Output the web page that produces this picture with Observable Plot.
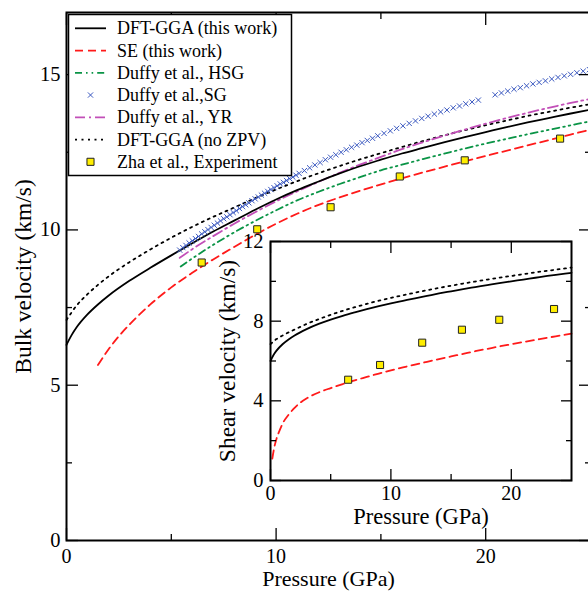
<!DOCTYPE html>
<html><head><meta charset="utf-8">
<script src="https://cdn.jsdelivr.net/npm/d3@7"></script>
<script src="https://cdn.jsdelivr.net/npm/@observablehq/plot@0.6"></script>
<style>
body{margin:0;background:#fff;}
#wrap{position:relative;width:588px;height:591px;overflow:hidden;}
#wrap svg{position:absolute;left:0;top:0;}
</style></head><body><div id="wrap"></div>
<script>
// ---------- DATA ----------
// Main panel: bulk velocity (km/s) vs pressure (GPa)
const dftGGA = [[0,6.3],[0.25,6.62],[0.5,6.88],[1,7.28],[1.5,7.6],[2,7.88],[3,8.36],[4,8.78],[5,9.18],[6,9.57],[7,9.95],[8,10.3],[9,10.65],[10,10.98],[11,11.28],[12,11.55],[13,11.81],[14,12.05],[15,12.26],[16,12.46],[17,12.64],[18,12.82],[19,12.99],[20,13.15],[21,13.31],[22,13.46],[23,13.6],[24,13.74],[25,13.87]];
const seThisWork = [[1.5,5.65],[2,6.15],[2.5,6.58],[3,6.95],[4,7.6],[5,8.15],[6,8.62],[7,9.05],[8,9.45],[9,9.84],[10,10.2],[11,10.52],[12,10.8],[13,11.04],[14,11.26],[16,11.66],[18,12.03],[20,12.38],[22,12.72],[24,13.06],[25,13.23]];
const duffyHSG = [[5.45,8.82],[6,9.08],[7,9.52],[8,9.92],[9,10.29],[10,10.63],[11,10.95],[12,11.22],[13,11.47],[14,11.7],[15,11.92],[16,12.1],[17,12.28],[18,12.45],[19,12.62],[20,12.78],[21,12.93],[22,13.08],[23,13.22],[24,13.36],[25,13.5]];
const duffySG = [[5.4,9.35],[5.55,9.43],[5.7,9.5],[5.85,9.58],[6,9.65],[6.15,9.72],[6.3,9.79],[6.45,9.87],[6.6,9.94],[6.75,10.01],[6.9,10.08],[7.05,10.15],[7.2,10.22],[7.35,10.29],[7.5,10.36],[7.65,10.42],[7.8,10.49],[7.95,10.56],[8.1,10.62],[8.25,10.69],[8.4,10.75],[8.55,10.81],[8.7,10.87],[8.85,10.94],[9,11.0],[9.15,11.06],[9.3,11.12],[9.45,11.18],[9.6,11.24],[9.75,11.3],[9.9,11.36],[10.05,11.42],[10.2,11.48],[10.35,11.53],[10.5,11.59],[10.65,11.65],[10.8,11.7],[10.95,11.76],[11.1,11.82],[11.35,11.91],[11.6,12.0],[11.85,12.09],[12.1,12.17],[12.35,12.26],[12.6,12.34],[12.85,12.42],[13.1,12.5],[13.35,12.58],[13.6,12.66],[13.85,12.73],[14.1,12.81],[14.35,12.88],[14.6,12.95],[14.85,13.03],[15.15,13.11],[15.45,13.19],[15.75,13.27],[16.05,13.35],[16.35,13.43],[16.65,13.51],[16.95,13.59],[17.25,13.66],[17.55,13.73],[17.85,13.8],[18.15,13.86],[18.45,13.93],[18.75,13.99],[19.05,14.06],[19.35,14.12],[19.65,14.18],[20.45,14.35],[20.75,14.41],[21.05,14.47],[21.35,14.53],[21.65,14.58],[21.95,14.64],[22.25,14.7],[22.55,14.75],[22.85,14.8],[23.15,14.86],[23.45,14.91],[23.75,14.96],[24.05,15.01],[24.35,15.06],[24.65,15.11],[24.95,15.16]];
const duffyYR = [[5.4,9.1],[6,9.38],[7,9.8],[8,10.2],[9,10.57],[10,10.92],[11,11.24],[12,11.54],[13,11.83],[14,12.1],[15,12.35],[16,12.6],[17,12.82],[18,13.03],[19,13.23],[20,13.42],[21,13.6],[22,13.77],[23,13.93],[24,14.08],[25,14.22]];
const dftNoZPV = [[0,7.1],[0.5,7.58],[1,7.93],[1.5,8.23],[2,8.5],[3,8.96],[4,9.37],[5,9.75],[6,10.1],[7,10.42],[8,10.72],[9,11.02],[10,11.3],[11,11.57],[12,11.82],[13,12.05],[14,12.27],[15,12.47],[16,12.67],[17,12.86],[18,13.04],[19,13.21],[20,13.37],[21,13.52],[22,13.67],[23,13.8],[24,13.93],[25,14.05]];
const zhaBulk = [[6.45,8.95],[9.1,10.02],[12.6,10.73],[15.9,11.72],[19.0,12.24],[23.55,12.94]];

// Inset: shear velocity (km/s) vs pressure (GPa)
const shearDFT = [[0,6.0],[0.25,6.3],[0.5,6.52],[1,6.84],[1.5,7.08],[2,7.28],[3,7.6],[4,7.86],[5,8.08],[6,8.27],[7,8.44],[8,8.6],[9,8.75],[10,8.89],[11,9.02],[12,9.15],[13,9.27],[14,9.39],[15,9.5],[16,9.61],[17,9.71],[18,9.81],[19,9.91],[20,10.0],[21,10.09],[22,10.18],[23,10.27],[24,10.35],[25,10.43]];
const shearNoZPV = [[0,6.85],[0.5,7.1],[1,7.28],[2,7.58],[3,7.86],[4,8.1],[5,8.32],[6,8.52],[7,8.7],[8,8.87],[9,9.03],[10,9.17],[11,9.3],[12,9.43],[13,9.55],[14,9.67],[15,9.78],[16,9.89],[17,9.99],[18,10.09],[19,10.18],[20,10.27],[21,10.36],[22,10.45],[23,10.53],[24,10.61],[25,10.69]];
const shearSE = [[0.15,1.1],[0.3,1.62],[0.5,2.1],[0.75,2.5],[1,2.85],[1.5,3.3],[2,3.65],[2.5,3.92],[3,4.12],[4,4.42],[5,4.64],[6,4.84],[7,5.03],[8,5.2],[9,5.37],[10,5.53],[11,5.68],[12,5.82],[13,5.96],[14,6.1],[15,6.23],[16,6.36],[17,6.49],[18,6.61],[19,6.73],[20,6.84],[21,6.95],[22,7.06],[23,7.17],[24,7.27],[25,7.37]];
const zhaShear = [[6.45,5.06],[9.1,5.8],[12.6,6.92],[15.9,7.57],[19.0,8.07],[23.55,8.61]];

// Axis ticks and labels
const mainXMajor = [0,10,20], mainXMinor = [5,15];
const mainYMajor = [0,5,10,15], mainYMinor = [2.5,7.5,12.5];
const insetXMajor = [0,10,20], insetXMinor = [5,15];
const insetYMajor = [0,4,8,12], insetYMinor = [2,6,10];
const mainXLabel = "Pressure (GPa)", mainYLabel = "Bulk velocity (km/s)";
const insetXLabel = "Pressure (GPa)", insetYLabel = "Shear velocity (km/s)";
const legendLabels = ["DFT-GGA (this work)","SE (this work)","Duffy et al., HSG","Duffy et al.,SG","Duffy et al., YR","DFT-GGA (no ZPV)","Zha et al., Experiment"];

// ---------- STYLE ----------
const FONT = '"Liberation Serif","Times New Roman",Times,serif';
const RED = "#ff1a1a", GREEN = "#0a9446", MAGENTA = "#c24fb8", BLUE = "#3a58c0", YELLOW = "#ffee00";
const DASH = {se: "8,5", hsg: "7,4,1.6,4,1.6,4", yr: "10,4,2,4", dot: "2,4.5"};
const X = d => d[0], Y = d => d[1];
const lineOpt = (stroke, dash) => ({x: X, y: Y, stroke, strokeWidth: 1.8, strokeDasharray: dash, curve: "monotone-x"});

function frameTicks(xMaj, xMin, yMaj, yMin, majLen, minLen) {
  const out = [];
  for (const a of ["bottom","top"]) {
    out.push(Plot.axisX(xMaj, {anchor: a, tickSize: -majLen, fill: "none", label: null, strokeWidth: 1.3}));
    out.push(Plot.axisX(xMin, {anchor: a, tickSize: -minLen, fill: "none", label: null, strokeWidth: 1.3}));
  }
  for (const a of ["left","right"]) {
    out.push(Plot.axisY(yMaj, {anchor: a, tickSize: -majLen, fill: "none", label: null, strokeWidth: 1.3}));
    out.push(Plot.axisY(yMin, {anchor: a, tickSize: -minLen, fill: "none", label: null, strokeWidth: 1.3}));
  }
  return out;
}

const wrap = document.getElementById("wrap");

// ---------- MAIN PANEL ----------
const main = Plot.plot({
  width: 588, height: 591,
  marginLeft: 66, marginRight: -2, marginTop: 12, marginBottom: 51,
  x: {domain: [0, 25]},
  y: {domain: [0, 17]},
  style: {fontFamily: FONT, fontSize: "20px", color: "black", background: "white", overflow: "hidden"},
  marks: [
    Plot.line(dftNoZPV, lineOpt("black", DASH.dot)),
    Plot.line(seThisWork, lineOpt(RED, DASH.se)),
    Plot.line(duffyHSG, lineOpt(GREEN, DASH.hsg)),
    Plot.line(duffyYR, lineOpt(MAGENTA, DASH.yr)),
    Plot.line(dftGGA, lineOpt("black", null)),
    Plot.dot(duffySG, {x: X, y: Y, symbol: "times", r: 2.5, stroke: BLUE, strokeWidth: 1}),
    Plot.dot(zhaBulk, {x: X, y: Y, symbol: "square", r: 4, fill: YELLOW, stroke: "#222", strokeWidth: 1}),
    Plot.frame({stroke: "black", strokeWidth: 2}),
    ...frameTicks(mainXMajor, mainXMinor, mainYMajor, mainYMinor, 12, 6),
    Plot.axisX(mainXMajor, {anchor: "bottom", tickSize: 0, tickPadding: 8, label: null, fontSize: 20}),
    Plot.axisY(mainYMajor, {anchor: "left", tickSize: 0, tickPadding: 6, label: null, fontSize: 20.5}),
    Plot.text([mainXLabel], {text: d => d, frameAnchor: "bottom", lineAnchor: "middle", textAnchor: "middle", dy: 38.5, fontSize: 22}),
    Plot.text([mainYLabel], {text: d => d, frameAnchor: "left", lineAnchor: "middle", textAnchor: "middle", dx: -43, rotate: -90, fontSize: 23.5})
  ]
});
wrap.appendChild(main);

// ---------- LEGEND ----------
const leg = d3.create("svg").attr("width", 588).attr("height", 591)
  .style("font-family", FONT).style("font-size", "18px");
leg.append("rect").attr("x", 68.5).attr("y", 14.5).attr("width", 223).attr("height", 161)
  .attr("fill", "white").attr("stroke", "black").attr("stroke-width", 1.5);
const rowY = i => 28.3 + i * 22.25;
const sample = [
  {kind: "line", stroke: "black", dash: null},
  {kind: "line", stroke: RED, dash: DASH.se},
  {kind: "line", stroke: GREEN, dash: DASH.hsg},
  {kind: "times"},
  {kind: "line", stroke: MAGENTA, dash: DASH.yr},
  {kind: "line", stroke: "black", dash: DASH.dot},
  {kind: "square"}
];
sample.forEach((s, i) => {
  const y = rowY(i);
  if (s.kind === "line") {
    leg.append("line").attr("x1", 75).attr("x2", 106).attr("y1", y).attr("y2", y)
      .attr("stroke", s.stroke).attr("stroke-width", 1.8).attr("stroke-dasharray", s.dash);
  } else if (s.kind === "times") {
    leg.append("path").attr("d", d3.symbol(d3.symbolTimes, Math.PI * 2.5 * 2.5)())
      .attr("transform", `translate(90.5,${y})`).attr("fill", "none").attr("stroke", BLUE).attr("stroke-width", 1);
  } else {
    leg.append("path").attr("d", d3.symbol(d3.symbolSquare, Math.PI * 16)())
      .attr("transform", `translate(90.5,${y})`).attr("fill", YELLOW).attr("stroke", "#222").attr("stroke-width", 1);
  }
  leg.append("text").attr("x", 117).attr("y", y + 6).text(legendLabels[i]);
});
wrap.appendChild(leg.node());

// ---------- INSET ----------
const inset = Plot.plot({
  width: 393, height: 300,
  marginLeft: 75, marginRight: 17, marginTop: 16, marginBottom: 45,
  x: {domain: [0, 25]},
  y: {domain: [0, 12]},
  style: {fontFamily: FONT, fontSize: "20px", color: "black", background: "transparent", overflow: "visible"},
  marks: [
    Plot.frame({fill: "white", stroke: null}),
    Plot.line(shearNoZPV, lineOpt("black", DASH.dot)),
    Plot.line(shearSE, lineOpt(RED, DASH.se)),
    Plot.line(shearDFT, lineOpt("black", null)),
    Plot.dot(zhaShear, {x: X, y: Y, symbol: "square", r: 4, fill: YELLOW, stroke: "#222", strokeWidth: 1}),
    Plot.frame({stroke: "black", strokeWidth: 2}),
    ...frameTicks(insetXMajor, insetXMinor, insetYMajor, insetYMinor, 11, 6),
    Plot.axisX(insetXMajor, {anchor: "bottom", tickSize: 0, tickPadding: 5.5, label: null, fontSize: 20}),
    Plot.axisY(insetYMajor, {anchor: "left", tickSize: 0, tickPadding: 7, label: null, fontSize: 20.5}),
    Plot.text([insetXLabel], {text: d => d, frameAnchor: "bottom", lineAnchor: "middle", textAnchor: "middle", dy: 36, fontSize: 22.5}),
    Plot.text([insetYLabel], {text: d => d, frameAnchor: "left", lineAnchor: "middle", textAnchor: "middle", dx: -43, rotate: -90, fontSize: 23.5})
  ]
});
inset.style.left = "195px";
inset.style.top = "225px";
wrap.appendChild(inset);
</script>
</body></html>
